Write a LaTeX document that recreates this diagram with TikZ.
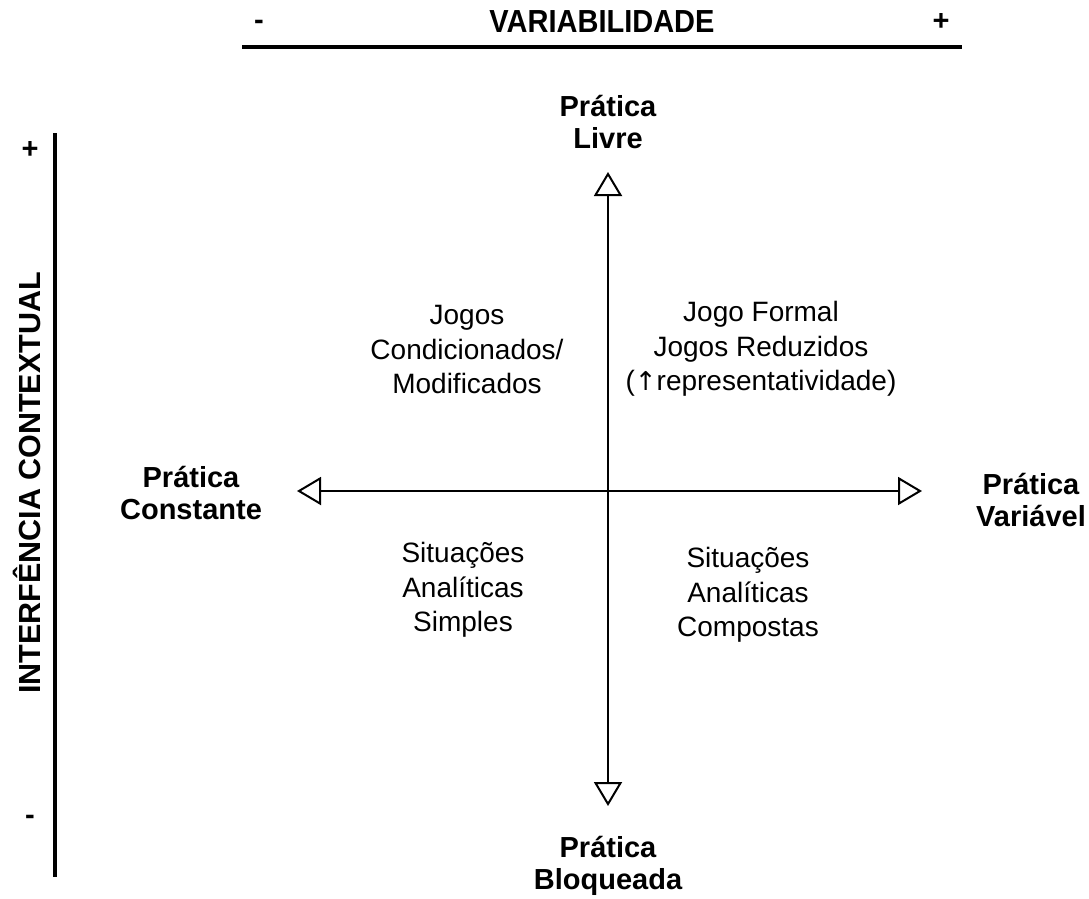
\documentclass[tikz,border=0pt]{standalone}
\usepackage{fontspec}
\setmainfont{Liberation Sans}
\newfontfamily\arrowfont{DejaVu Sans}
\usetikzlibrary{arrows.meta}
\begin{document}
\begin{tikzpicture}[x=1pt,y=-1pt,
  lbl/.style={font=\fontsize{29}{32}\selectfont\bfseries, align=center, inner sep=0pt},
  quad/.style={font=\fontsize{28}{34.5}\selectfont, align=center, inner sep=0pt},
  scl/.style={font=\fontsize{29}{32}\selectfont\bfseries, inner sep=0pt},
  arr/.style={line width=2.2pt, {Triangle[open,length=24pt,width=28pt,line width=2pt]}-{Triangle[open,length=24pt,width=28pt,line width=2pt]}},
  bar/.style={line width=4.2pt}]
\useasboundingbox (0,0) rectangle (1089,899);
% top scale
\coordinate (tl) at (242,47);
\coordinate (tr) at (962,47);
\draw[bar] (tl) -- (tr);
\node[scl, yscale=1.1] (var) at (602,22) {VARIABILIDADE};
\node[scl] (vminus) at (259,25) {-};
\node[scl] (vplus) at (941,22) {+};
% left scale
\coordinate (lt) at (55,133);
\coordinate (lb) at (55,877);
\draw[bar] (lt) -- (lb);
\node[scl, font=\fontsize{30.5}{33}\selectfont\bfseries, rotate=90] (ic) at (27,483) {INTERFÊNCIA CONTEXTUAL};
\node[scl] (iplus) at (30,150) {+};
\node[scl] (iminus) at (30,820) {-};
% axis end labels
\node[lbl] (livre) at (608,122) {Prática\\Livre};
\node[lbl] (bloq) at (608,866) {Prática\\Bloqueada};
\node[lbl] (const) at (191,493) {Prática\\Constante};
\node[lbl] (varv) at (1031,500) {Prática\\Variável};
% arrows
\coordinate (top) at (608,172);
\coordinate (bot) at (608,806);
\coordinate (left) at (297,491);
\coordinate (right) at (922,491);
\draw[arr] (bot) -- (top);
\draw[arr] (left) -- (right);
% quadrants
\node[quad] (q1) at (467,350) {Jogos\\Condicionados/\\Modificados};
\node[quad] (q2) at (761,349) {Jogo Formal\\Jogos Reduzidos\\({\arrowfont\fontsize{26}{30}\selectfont ↑}representatividade)};
\node[quad] (q3) at (463,590) {Situações\\Analíticas\\Simples};
\node[quad] (q4) at (748,595) {Situações\\Analíticas\\Compostas};
\end{tikzpicture}
\end{document}
